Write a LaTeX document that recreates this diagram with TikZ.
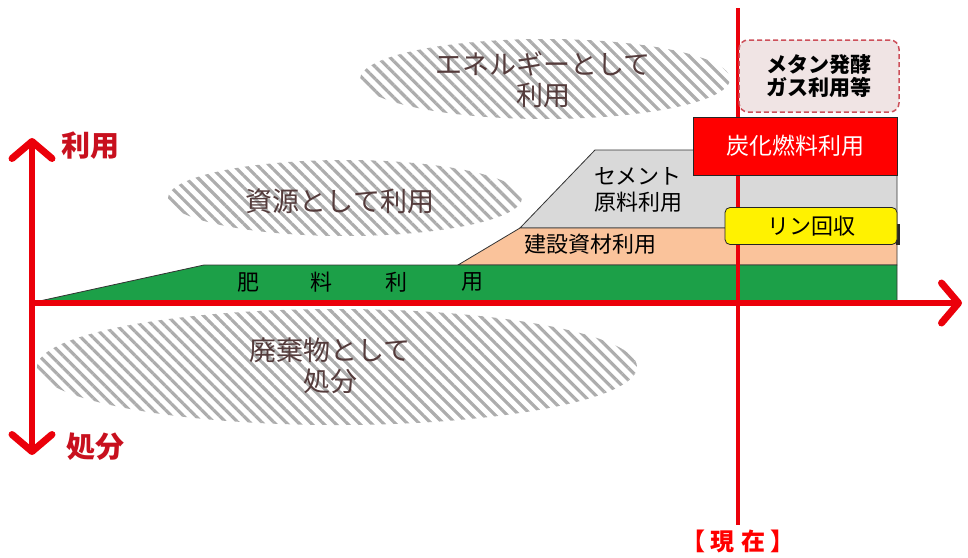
\documentclass[tikz,border=0pt]{standalone}
\usepackage{fontspec}
\newfontfamily\jp{Noto Sans CJK JP}
\usetikzlibrary{patterns.meta,arrows.meta}
\definecolor{axred}{RGB}{235,0,10}
\definecolor{labred}{RGB}{200,16,30}
\definecolor{bandgreen}{RGB}{28,160,72}
\definecolor{peach}{RGB}{250,195,155}
\definecolor{cgray}{RGB}{217,217,217}
\definecolor{hatchtxt}{RGB}{85,60,60}
\definecolor{pinkbox}{RGB}{240,228,228}
\definecolor{dashred}{RGB}{205,80,90}
\tikzset{
  hatch/.style={pattern={Lines[angle=-45,distance=8.5pt,line width=3.2pt]},pattern color=black!32,draw=none},
  hatchtext/.style={font=\jp\fontsize{27}{31}\selectfont,text=hatchtxt,align=center,inner sep=0pt},
  band/.style={draw=black!80,line width=0.8pt},
  bandtext/.style={font=\jp\fontsize{22}{26}\selectfont,text=black,align=center,inner sep=0pt},
  axis/.style={axred,line width=5.5pt},
  axlabel/.style={font=\jp\bfseries\fontsize{29}{32}\selectfont,text=labred,inner sep=0pt},
  tip/.style={-{Straight Barb[length=17pt,width=40pt,line width=7pt,round]}},
}
\begin{document}
\begin{tikzpicture}[x=1pt,y=-1pt]
\useasboundingbox (0,0) rectangle (968,557);
% hatched regions
\fill[hatch] (545,79) ellipse [x radius=185, y radius=40];
\fill[hatch] (345,198) ellipse [x radius=177, y radius=38];
\fill[hatch] (337,367) ellipse [x radius=300, y radius=58];
\node[hatchtext] (energy) at (543,80) {エネルギーとして\\利用};
\node[hatchtext] (resource) at (340,201) {資源として利用};
\node[hatchtext] (waste) at (330,366) {廃棄物として\\処分};
% bands
\draw[band,fill=cgray] (520,228) -- (595,150) -- (897,150) -- (897,228) -- cycle;
\draw[band,fill=peach] (458,265) -- (520,228) -- (897,228) -- (897,265) -- cycle;
\draw[band,fill=bandgreen] (35,302) -- (204,265) -- (897,265) -- (897,302) -- cycle;
\node[bandtext] (cement) at (638,190) {セメント\\原料利用};
\node[bandtext] (build) at (590,244) {建設資材利用};
\node[bandtext] (f1) at (248,282) {肥};
\node[bandtext] (f2) at (321,282) {料};
\node[bandtext] (f3) at (396,282) {利};
\node[bandtext] (f4) at (472,282) {用};
% now line
\coordinate (nowtop) at (738,8);
\coordinate (nowbot) at (738,525);
\draw[axred,line width=4pt] (nowtop) -- (nowbot);
\node[font=\jp\bfseries\fontsize{24}{28}\selectfont,text=red,inner sep=0pt] (now) at (738,541) {【\hspace{5pt}現\hspace{7pt}在\hspace{5pt}】};
% boxes
\node[draw=black!85,line width=0.8pt,fill=red,minimum width=204pt,minimum height=58pt,inner sep=0pt,
      font=\jp\fontsize{23}{26}\selectfont,text=white] (char) at (795,146) {炭化燃料利用};
\fill[black!85] (896,224) rectangle (900,245);
\node[draw=black!85,line width=0.8pt,fill=yellow,rounded corners=5pt,minimum width=172pt,minimum height=37pt,inner sep=0pt,
      font=\jp\fontsize{22}{26}\selectfont,text=black] (phos) at (811,226) {リン回収};
\node[draw=dashred,dash pattern=on 5pt off 3pt,line width=1.5pt,fill=pinkbox,rounded corners=9pt,minimum width=160pt,minimum height=72pt,inner sep=0pt,
      align=center,font=\jp\bfseries\fontsize{21}{23}\selectfont,text=black] (methane) at (819,76) {メタン発酵\\ガス利用等};
% axes
\coordinate (o) at (30,303);
\coordinate (xend) at (962,303);
\coordinate (ytop) at (32,138);
\coordinate (ybot) at (32,455);
\coordinate (ymid) at (32,303);
\draw[axis,tip] (o) -- (xend);
\draw[axis,tip] (ymid) -- (ytop);
\draw[axis,tip] (ymid) -- (ybot);
\node[axlabel] (use) at (90,146) {利用};
\node[axlabel] (disp) at (95,447) {処分};
\end{tikzpicture}
\end{document}
